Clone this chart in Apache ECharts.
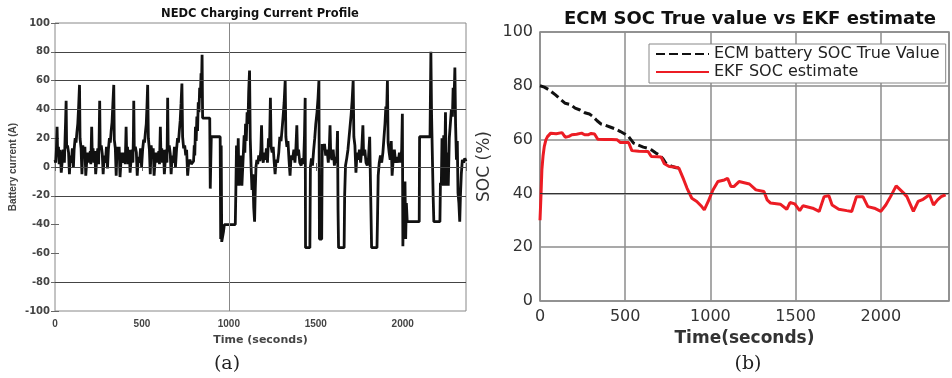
<!DOCTYPE html>
<html><head><meta charset="utf-8">
<script src="https://cdn.jsdelivr.net/npm/echarts/dist/echarts.min.js"></script>
<style>html,body{margin:0;padding:0;background:#fff}#c{width:952px;height:378px}</style>
</head><body><div id="c"></div>
<script>
// ---- Panel (a): NEDC charging current profile, [time s, current A]
const currentPoints = [
[0,5],[4,3],[8,12],[12,28],[15,10],[20,14],[24,2],[30,12],[36,-4],[42,5],[48,12],[54,3],[58,20],[61,32],[64,46],[67,13],[72,15],[78,10],[83,-5],[88,8],[94,3],[100,13],[106,0],[110,12],[116,20],[121,17],[126,24],[131,30],[136,42],[141,57],[144,20],[150,13],[155,-5],[160,15],[166,8],[172,14],[177,-6],[183,5],[189,10],[194,3],
[199,4],[203,11],[206,2],[211,28],[214,10],[219,13],[223,3],[229,11],[234,-5],[240,5],[246,13],[251,2],[254,21],[257,46],[260,12],[266,15],[272,9],[277,-5],[283,8],[290,3],[296,14],[302,-1],[307,12],[313,20],[318,17],[323,25],[328,31],[333,44],[338,57],[341,19],[347,13],[352,-6],[357,14],[363,7],[369,14],[374,-7],[380,5],[386,10],[391,3],
[396,5],[400,10],[404,2],[409,28],[412,11],[417,14],[421,2],[427,12],[432,-4],[438,6],[444,12],[448,3],[451,22],[453,46],[456,12],[462,14],[468,10],[473,-6],[479,7],[486,3],[492,13],[498,0],[504,12],[510,19],[515,17],[520,24],[525,30],[529,42],[533,57],[537,20],[543,12],[548,-5],[553,15],[559,8],[565,13],[570,-6],[576,5],[582,10],[588,3],
[593,4],[597,11],[601,2],[606,28],[609,10],[614,13],[618,3],[624,12],[629,-5],[635,6],[640,12],[644,3],[646,22],[648,48],[651,13],[657,15],[663,9],[668,-5],[674,8],[681,3],[687,14],[693,0],[699,12],[705,20],[710,17],[715,25],[720,32],[725,44],[730,58],[734,21],[740,13],[746,15],[752,8],[757,12],[763,-6],[769,3],[776,5],[784,2],[790,3],
[797,4],[801,15],[804,8],[808,28],[812,18],[816,35],[820,25],[824,45],[828,38],[832,55],[836,48],[840,65],[843,58],[846,78],[849,34],[890,34],[893,-15],[897,-15],[899,21],[950,21],[953,-50],[956,15],[959,-52],[966,-52],[969,-45],[974,-40],[1037,-40],[1040,-18],[1044,15],[1048,-13],[1054,20],[1058,-13],[1066,-13],[1070,8],[1075,-13],[1082,-13],[1088,22],[1092,10],[1096,30],[1100,18],[1105,38],[1110,30],[1114,52],[1119,67],[1123,20],[1128,0],[1133,-16],[1138,-5],[1143,-28],[1148,-38],[1152,-15],[1156,0],
[1161,5],[1166,2],[1172,8],[1178,4],[1184,12],[1188,29],[1192,8],[1198,3],[1204,10],[1210,5],[1216,13],[1222,3],[1228,20],[1234,14],[1239,48],[1243,14],[1249,10],[1255,14],[1261,3],[1266,-5],[1272,5],[1280,3],[1287,10],[1293,21],[1300,18],[1306,26],[1312,35],[1318,45],[1324,60],[1328,21],[1334,14],[1340,18],[1346,5],[1352,-6],[1358,8],[1366,5],[1374,12],[1380,3],[1386,14],[1391,29],[1395,8],[1401,12],[1408,3],[1416,1],[1424,6],[1430,2],[1435,22],[1439,48],[1441,-56],[1466,-56],[1469,0],[1475,6],[1481,1],[1488,12],[1494,20],[1500,30],[1507,38],[1513,48],[1518,60],[1521,-50],[1534,-50],[1537,16],[1543,12],[1550,16],[1557,8],[1565,12],[1572,3],[1578,14],[1582,29],[1586,8],[1593,5],[1600,12],[1607,1],[1614,7],[1620,3],[1625,25],[1628,-30],[1631,-56],[1663,-56],[1666,-20],[1671,1],[1678,6],[1685,12],[1691,20],[1697,28],[1703,36],[1709,46],[1715,60],[1719,21],[1725,15],[1731,-4],[1737,10],[1744,5],[1751,12],[1758,3],[1765,14],[1771,29],[1775,8],[1782,12],[1789,3],[1796,1],[1803,6],[1810,21],[1818,21],[1821,-56],[1852,-56],[1855,-36],[1859,-6],[1865,3],[1872,8],[1879,3],[1886,10],[1892,20],[1898,30],[1903,42],[1907,35],[1912,60],[1916,17],[1922,10],[1928,5],[1934,18],[1939,-6],[1945,5],[1952,12],[1959,3],[1966,7],[1974,3],[1981,10],[1988,3],[1994,12],[1998,37],[2001,-55],[2005,-20],[2009,-45],[2013,-10],[2017,-50],[2021,-25],[2026,-38],[2095,-38],[2097,21],[2157,21],[2162,80],[2166,36],[2171,35],[2175,-20],[2179,-38],[2214,-38],[2217,-11],[2222,-13],[2226,20],[2230,-13],[2236,22],[2240,-13],[2246,38],[2250,-13],[2256,10],[2262,-13],[2268,20],[2274,30],[2280,40],[2286,35],[2290,55],[2295,45],[2300,69],[2304,30],[2309,5],[2314,18],[2318,-18],[2323,-25],[2328,-38],[2332,-20],[2337,-5],[2343,5],[2350,3],[2357,6],[2364,4]
];
const currentGridValues = [80, 60, 40, 0, -20, -80];
const currentGridTimes = [1000];

// ---- Panel (b): SOC, [time s, SOC %]
const socTrue = [[0,80],[25,79.5],[53,78.5],[91,76.6],[120,75],[148,73.5],[180,73],[206,71.7],[235,71],[263,70],[290,69.5],[310,68.6],[335,67],[358,65.8],[385,65.3],[415,64.6],[440,64],[472,63],[500,62],[520,61.1],[549,58.7],[575,58],[606,57.2],[630,56.8],[653,56.2],[680,55],[701,54.3],[720,53],[739,51.2],[760,50.5],[777,50],[800,49.5],[815,49.4]];
const socEkf = [[0,30],[5,38],[11,48.7],[18,54],[25,57.4],[35,60],[44,61.1],[63,62.4],[95,62.2],[129,62.6],[148,60.9],[170,61.2],[187,61.8],[215,62],[244,62.4],[262,61.8],[282,61.8],[300,62.3],[320,62.1],[339,60.1],[380,60],[420,60],[453,59.9],[472,58.9],[500,58.9],[520,58.9],[539,55.9],[580,55.7],[634,55.6],[653,53.7],[690,53.6],[711,53.5],[730,51],[758,50],[790,49.8],[815,49.4],[844,45],[863,41.9],[891,38.2],[920,37],[949,35.1],[964,33.9],[987,37],[1015,41.3],[1044,44.4],[1082,45],[1101,45.6],[1120,42.6],[1139,42.6],[1168,44.4],[1229,43.5],[1267,41.3],[1314,40.7],[1333,37.6],[1353,36.4],[1410,36],[1448,34.1],[1467,36.6],[1495,36.1],[1524,33.6],[1543,35.4],[1600,34.5],[1638,33.3],[1667,38.8],[1695,39.1],[1714,35.7],[1753,34.1],[1800,33.6],[1829,33.3],[1857,38.8],[1895,38.8],[1924,35.1],[1962,34.5],[2000,33.3],[2029,35.7],[2057,38.8],[2090,42.8],[2134,40.1],[2153,38.8],[2191,33.3],[2219,37],[2248,37.8],[2286,39.5],[2309,35.7],[2333,37.6],[2354,38.8],[2380,39.5]];
const socNames = ['ECM battery SOC True Value', 'EKF SOC estimate'];

const chart = echarts.init(document.getElementById('c'), null, {renderer: 'canvas'});
const tickFmt = v => (v % 500 === 0 ? String(v) : '');
const lblA = {fontFamily: 'DejaVu Sans', fontWeight: 'bold', fontSize: 10, color: '#444'};
const lblB = {fontFamily: 'DejaVu Sans', fontSize: 16, color: '#333'};

chart.setOption({
  animation: false,
  backgroundColor: '#fff',
  grid: [
    {left: 55, top: 23, width: 411, height: 288, show: true, borderColor: '#888', borderWidth: 1, backgroundColor: 'transparent'},
    {left: 540, top: 32, width: 420, height: 269, show: true, borderColor: '#888', borderWidth: 1.5, backgroundColor: 'transparent'}
  ],
  xAxis: [
    {gridIndex: 0, type: 'value', min: 0, max: 2364, interval: 500, position: 'bottom',
     axisLine: {show: false}, axisTick: {inside: true, length: 4, lineStyle: {color: '#666'}},
     splitLine: {show: false},
     axisLabel: {formatter: tickFmt, fontFamily: 'Liberation Sans', fontWeight: 'bold', fontSize: 10, color: '#444', margin: 8},
     name: 'Time (seconds)', nameLocation: 'middle', nameGap: 24,
     nameTextStyle: {fontFamily: 'DejaVu Sans', fontWeight: 'bold', fontSize: 11, color: '#444'}},
    {gridIndex: 0, type: 'value', min: 0, max: 2364, interval: 500, position: 'top',
     axisLine: {show: false}, axisTick: {inside: true, length: 4, lineStyle: {color: '#666'}},
     splitLine: {show: false}, axisLabel: {show: false}},
    {gridIndex: 1, type: 'value', min: 0, max: 2400, interval: 500, position: 'bottom',
     axisLine: {show: false}, axisTick: {show: false},
     splitLine: {show: true, lineStyle: {color: '#8c8c8c', width: 1.5}},
     axisLabel: Object.assign({formatter: tickFmt, margin: 8}, lblB),
     name: 'Time(seconds)', nameLocation: 'middle', nameGap: 28,
     nameTextStyle: {fontFamily: 'DejaVu Sans', fontWeight: 'bold', fontSize: 17, color: '#333'}}
  ],
  yAxis: [
    {gridIndex: 0, type: 'value', min: -100, max: 100, interval: 20,
     axisLine: {show: false}, axisTick: {inside: true, length: 4, lineStyle: {color: '#666'}},
     splitLine: {show: false},
     axisLabel: Object.assign({margin: 5}, lblA),
     name: 'Battery current (A)', nameLocation: 'middle', nameGap: 37,
     nameTextStyle: {fontFamily: 'Liberation Sans', fontWeight: 'bold', fontSize: 10, color: '#444'}},
    {gridIndex: 0, type: 'value', min: -100, max: 100, interval: 20, position: 'right',
     axisLine: {show: false}, axisTick: {inside: true, length: 4, lineStyle: {color: '#666'}},
     splitLine: {show: false}, axisLabel: {show: false}},
    {gridIndex: 1, type: 'value', min: 0, max: 100, interval: 20,
     axisLine: {show: false}, axisTick: {show: false},
     splitLine: {show: true, lineStyle: {color: '#8c8c8c', width: 1.5}},
     axisLabel: Object.assign({margin: 7}, lblB),
     name: 'SOC (%)', nameLocation: 'middle', nameGap: 47,
     nameTextStyle: {fontFamily: 'DejaVu Sans', fontSize: 17, color: '#333'}}
  ],
  legend: {
    left: 649, top: 44, orient: 'vertical', itemGap: 2, itemWidth: 53, itemHeight: 14,
    backgroundColor: '#fff', borderColor: '#888', borderWidth: 1, padding: [2, 6, 3, 6],
    itemStyle: {opacity: 0, borderWidth: 0},
    textStyle: {fontFamily: 'DejaVu Sans', fontSize: 16, color: '#222', lineHeight: 16},
    data: socNames
  },
  graphic: [
    {type: 'text', x: 260, y: 14, style: {text: 'NEDC Charging Current Profile', fontFamily: 'DejaVu Sans', fontWeight: 'bold', fontSize: 11.5, fill: '#111', textAlign: 'center', textVerticalAlign: 'middle'}},
    {type: 'text', x: 750, y: 19.5, style: {text: 'ECM SOC True value vs EKF estimate', fontFamily: 'DejaVu Sans', fontWeight: 'bold', fontSize: 18, fill: '#111', textAlign: 'center', textVerticalAlign: 'middle'}},
    {type: 'text', x: 227, y: 364, style: {text: '(a)', fontFamily: 'DejaVu Serif', fontSize: 19, fill: '#222', textAlign: 'center', textVerticalAlign: 'middle'}},
    {type: 'text', x: 748, y: 364, style: {text: '(b)', fontFamily: 'DejaVu Serif', fontSize: 19, fill: '#222', textAlign: 'center', textVerticalAlign: 'middle'}}
  ],
  series: [
    {type: 'line', name: 'current', xAxisIndex: 0, yAxisIndex: 0, data: currentPoints,
     symbol: 'none', clip: true, z: 3,
     lineStyle: {color: '#111', width: 2.8, join: 'bevel'},
     markLine: {silent: true, symbol: ['none', 'none'], label: {show: false}, animation: false,
       lineStyle: {color: '#444', width: 1, type: 'solid'},
       data: currentGridValues.map(v => ({yAxis: v}))
         .concat(currentGridTimes.map(v => ({xAxis: v, lineStyle: {color: '#888', width: 1, type: 'solid'}})))}},
    {type: 'line', name: socNames[0], xAxisIndex: 2, yAxisIndex: 2, data: socTrue,
     symbol: 'none', clip: true, z: 3,
     lineStyle: {color: '#111', width: 3, type: [9, 4]}, itemStyle: {color: '#111'},
     markLine: {silent: true, symbol: ['none', 'none'], label: {show: false}, animation: false,
       lineStyle: {color: '#333', width: 1, type: 'solid'}, data: [{yAxis: 40}]}},
    {type: 'line', name: socNames[1], xAxisIndex: 2, yAxisIndex: 2, data: socEkf,
     symbol: 'none', clip: true, z: 4,
     lineStyle: {color: '#ec1c24', width: 3}, itemStyle: {color: '#ec1c24'}}
  ]
});
</script>
</body></html>
